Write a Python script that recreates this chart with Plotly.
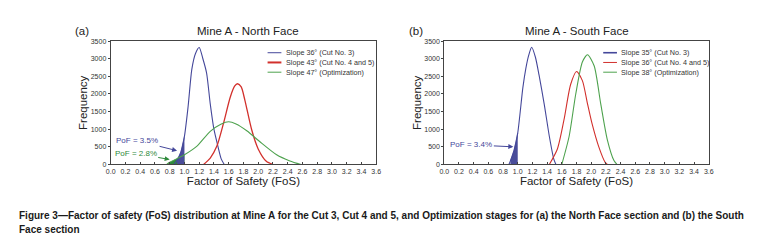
import plotly.graph_objects as go

# ---------------- data ----------------
# North face
fos_n_blue = [0.86, 0.90, 0.95, 1.00, 1.05, 1.10, 1.15, 1.20, 1.25, 1.30, 1.35, 1.40, 1.45, 1.50, 1.54]
freq_n_blue = [0, 120, 340, 800, 1650, 2700, 3150, 3320, 3000, 2600, 1720, 1000, 550, 150, 0]
fos_n_red = [1.26, 1.35, 1.44, 1.53, 1.62, 1.68, 1.72, 1.77, 1.82, 1.91, 2.00, 2.11, 2.20]
freq_n_red = [0, 180, 520, 1170, 1900, 2220, 2290, 2200, 1820, 1000, 440, 90, 0]
fos_n_green = [0.76, 0.80, 0.90, 1.00, 1.17, 1.35, 1.50, 1.60, 1.70, 1.85, 2.02, 2.25, 2.43, 2.58]
freq_n_green = [0, 60, 165, 275, 520, 940, 1150, 1210, 1150, 950, 650, 275, 100, 0]

# South face
fos_s_blue = [0.88, 0.90, 0.95, 1.00, 1.07, 1.11, 1.15, 1.19, 1.24, 1.29, 1.36, 1.43, 1.49, 1.52]
freq_s_blue = [0, 100, 400, 890, 2180, 2720, 3100, 3325, 3050, 2540, 1720, 800, 160, 0]
fos_s_red = [1.43, 1.54, 1.63, 1.72, 1.80, 1.88, 1.95, 2.01, 2.10, 2.19, 2.22]
freq_s_red = [0, 440, 1270, 2270, 2640, 2380, 1720, 1170, 520, 60, 0]
fos_s_green = [1.60, 1.70, 1.79, 1.88, 1.95, 2.04, 2.13, 2.22, 2.31, 2.35]
freq_s_green = [0, 800, 2000, 2910, 3115, 2800, 1720, 700, 110, 0]

names_north = ["Slope 36° (Cut No. 3)", "Slope 43° (Cut No. 4 and 5)", "Slope 47° (Optimization)"]
names_south = ["Slope 35° (Cut No. 3)", "Slope 36° (Cut No. 4 and 5)", "Slope 38° (Optimization)"]
pof_labels_north = ["PoF = 3.5%", "PoF = 2.8%"]
pof_labels_south = ["PoF = 3.4%"]
x_ticks = [round(0.2 * i, 1) for i in range(19)]
y_ticks = list(range(0, 3501, 500))

BLUE = "#44479a"
RED = "#d2302c"
GREEN = "#4ea24e"
BLUE_FILL = "#4a4d9a"
GREEN_FILL = "#2f8a3c"
FONT = "Liberation Sans, Arial, sans-serif"

fig = go.Figure()


def curve(x, y, color, xa, ya, width=1.1):
    fig.add_trace(go.Scatter(x=x, y=y, mode="lines", xaxis=xa, yaxis=ya,
                             line=dict(color=color, width=width, shape="spline", smoothing=0.7),
                             showlegend=False, hoverinfo="skip"))


def failure_fill(x, y, lo, color, xa, ya):
    fx = [a for a in x if lo <= a <= 1.0]
    fy = [b for a, b in zip(x, y) if lo <= a <= 1.0]
    fig.add_trace(go.Scatter(x=fx, y=fy, mode="lines", fill="tozeroy", fillcolor=color,
                             xaxis=xa, yaxis=ya, line=dict(color=color, width=0.5),
                             showlegend=False, hoverinfo="skip"))


# north
failure_fill(fos_n_green, freq_n_green, 0.76, GREEN_FILL, "x", "y")
failure_fill(fos_n_blue, freq_n_blue, 0.90, BLUE_FILL, "x", "y")
curve(fos_n_blue, freq_n_blue, BLUE, "x", "y")
curve(fos_n_red, freq_n_red, RED, "x", "y", 1.3)
curve(fos_n_green, freq_n_green, GREEN, "x", "y")
# south
failure_fill(fos_s_blue, freq_s_blue, 0.90, BLUE_FILL, "x2", "y2")
curve(fos_s_blue, freq_s_blue, BLUE, "x2", "y2")
curve(fos_s_red, freq_s_red, RED, "x2", "y2")
curve(fos_s_green, freq_s_green, GREEN, "x2", "y2")

W, H = 761, 241
L1, R1 = 99 / W, 368 / W
L2, R2 = 437 / W, 705 / W
B, T = 1 - 157 / H, 1 - 30 / H

xax = dict(range=[0, 3.6], tickvals=x_ticks, ticktext=[f"{v:.1f}" for v in x_ticks],
           showline=True, mirror=True, linecolor="#444", linewidth=1, ticks="inside",
           ticklen=2, tickcolor="#444", showgrid=False, zeroline=False,
           tickfont=dict(size=7, color="#333", family=FONT),
           title=dict(text="Factor of Safety (FoS)", font=dict(size=11.5, color="#222", family=FONT), standoff=2))
yax = dict(range=[0, 3500], tickvals=y_ticks, showline=True, mirror=True, linecolor="#444",
           linewidth=1, ticks="outside", ticklen=2, tickcolor="#444", showgrid=False,
           zeroline=False, tickfont=dict(size=7, color="#333", family=FONT),
           title=dict(text="Frequency", font=dict(size=11.5, color="#222", family=FONT), standoff=0))

fig.update_layout(
    width=W, height=H, margin=dict(l=0, r=0, t=0, b=0),
    paper_bgcolor="white", plot_bgcolor="white", showlegend=False,
    xaxis=dict(xax, domain=[L1, R1], anchor="y"),
    yaxis=dict(yax, domain=[B, T], anchor="x"),
    xaxis2=dict(xax, domain=[L2, R2], anchor="y2"),
    yaxis2=dict(yax, domain=[B, T], anchor="x2"),
    font=dict(family=FONT),
)

ann = []
# panel labels and titles
for xc, lab in [(70, "(a)"), (408, "(b)")]:
    ann.append(dict(x=xc / W, y=1 - 20 / H, xref="paper", yref="paper", text=lab, showarrow=False,
                    font=dict(size=11.5, color="#222", family=FONT), xanchor="center", yanchor="middle"))
for xc, tit in [(238.5, "Mine A - North Face"), (571.5, "Mine A - South Face")]:
    ann.append(dict(x=xc / W, y=1 - 20 / H, xref="paper", yref="paper", text=tit, showarrow=False,
                    font=dict(size=11.5, color="#222", family=FONT), xanchor="center", yanchor="middle"))

# manual legends
shapes = []
legend_rows = [0.906, 0.827, 0.748]
for (xd, yd, names, x0, x1, xt, widths) in [
        ("x domain", "y domain", names_north, 0.591, 0.643, 0.652, [1, 2, 1]),
        ("x2 domain", "y2 domain", names_south, 0.601, 0.653, 0.662, [1.6, 1, 1])]:
    for nm, col, yy, lw in zip(names, [BLUE, RED, GREEN], legend_rows, widths):
        shapes.append(dict(type="line", xref=xd, yref=yd, x0=x0, x1=x1, y0=yy, y1=yy,
                           line=dict(color=col, width=lw)))
        ann.append(dict(x=xt, y=yy, xref=xd, yref=yd, text=nm, showarrow=False, xanchor="left",
                        yanchor="middle", font=dict(size=7.2, color="#333", family=FONT)))

# PoF annotations
ann.append(dict(x=0.90, y=390, xref="x", yref="y", ax=-40, ay=-10, text=pof_labels_north[0],
                showarrow=True, arrowhead=2, arrowsize=1, arrowwidth=1, arrowcolor=BLUE,
                font=dict(size=8, color=BLUE, family=FONT)))
ann.append(dict(x=0.80, y=140, xref="x", yref="y", ax=-34, ay=-6, text=pof_labels_north[1],
                showarrow=True, arrowhead=2, arrowsize=1, arrowwidth=1, arrowcolor=GREEN_FILL,
                font=dict(size=8, color=GREEN_FILL, family=FONT)))
ann.append(dict(x=0.94, y=500, xref="x2", yref="y2", ax=-42, ay=-2, text=pof_labels_south[0],
                showarrow=True, arrowhead=2, arrowsize=1, arrowwidth=1, arrowcolor=BLUE,
                font=dict(size=8, color=BLUE, family=FONT)))

# caption
CAP_FONT = "Liberation Sans Narrow, Arial Narrow, Liberation Sans, sans-serif"
ann.append(dict(x=4 / W, y=1 - 210 / H, xref="paper", yref="paper", xanchor="left", yanchor="middle",
                showarrow=False,
                text="<b>Figure 3—Factor of safety (FoS) distribution at Mine A for the Cut 3, Cut 4 and 5, and Optimization stages for (a) the North Face section and (b) the South</b>",
                font=dict(size=10, color="#1a1a1a", family=CAP_FONT)))
ann.append(dict(x=4 / W, y=1 - 223.5 / H, xref="paper", yref="paper", xanchor="left", yanchor="middle",
                showarrow=False, text="<b>Face section</b>",
                font=dict(size=10, color="#1a1a1a", family=CAP_FONT)))

fig.update_layout(annotations=ann, shapes=shapes)
fig.write_html("out.html")
